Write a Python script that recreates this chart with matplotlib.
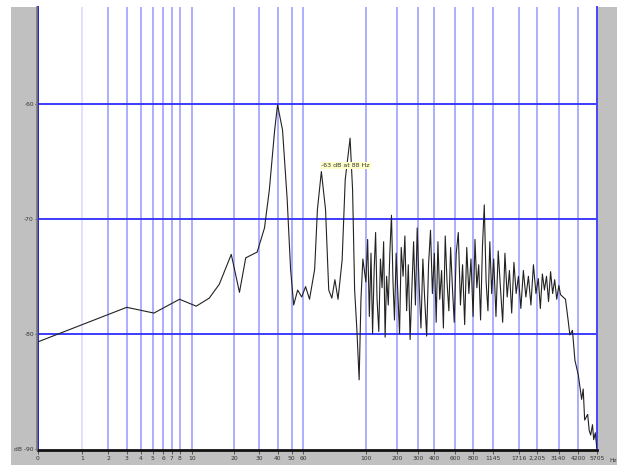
import numpy as np
import matplotlib
matplotlib.use("Agg")
import matplotlib.pyplot as plt
from matplotlib.patches import Rectangle
from matplotlib.lines import Line2D
from matplotlib.ticker import FixedLocator, NullLocator

# frequency grid of the analyser (Hz) and where each grid line sits on its warped axis
grid_hz = np.array([0, 1, 2, 3, 4, 5, 6, 7, 8, 10, 20, 30, 40, 50, 60, 100, 200, 300, 400,
                    600, 800, 1145, 1716, 2205, 3140, 4200, 5705], dtype=float)
grid_labels = ['0', '1', '2', '3', '4', '5', '6', '7', '8', '10', '20', '30', '40', '50', '60',
               '100', '200', '300', '400', '600', '800', '1145', '1716', '2,205', '3140', '4200', '5705']
grid_pos = np.array([39.3, 83, 109, 127.7, 142, 153.7, 164, 172.7, 180.3, 193, 234.7, 260, 278,
                     292, 303.3, 366, 397.3, 418, 434, 455.3, 473, 492.3, 518.7, 537, 558, 577.7, 596.3])

db_ticks = [-60, -70, -80, -90]
db_labels = ['-60', '-70', '-80', 'dB -90']

# spectrum: low-frequency part
freq_low = [0, 3, 5.1, 8, 10.7, 13.3, 15.7, 19.1, 21.8, 24.1, 28.9, 32.5, 35.1, 38.2, 40,
            43.3, 46.6, 49.2, 51.7, 55.1, 58.8, 61.3, 63.3, 66.0, 67.5, 69.7, 72.1, 74.0,
            75.9, 77.8, 79.8, 82.5, 84.6, 88, 89.8, 91.3, 93.0, 94.7, 96.1, 97.6]
db_low = [-80.7, -77.7, -78.2, -77.0, -77.6, -76.9, -75.7, -73.1, -76.4, -73.4, -72.9, -70.8,
          -67.5, -62.3, -60.1, -62.3, -68.3, -74.4, -77.5, -76.2, -76.8, -75.9, -77.0, -74.4,
          -69.2, -65.9, -69.2, -76.2, -76.9, -75.3, -77.0, -73.6, -66.6, -63.0, -67.5, -76.2,
          -79.7, -84.0, -77.0, -73.5]

# spectrum: noisy mid band
freq_mid = [100, 104, 108, 112, 116, 120, 124, 128, 133, 138, 143, 148, 153, 158, 164, 170,
            176, 182, 188, 195, 202, 209, 216, 224, 232, 240, 248, 257, 266, 275, 285, 295,
            305, 316, 327, 338, 350, 362, 375, 388, 402, 416, 430, 445, 461, 477, 494, 511,
            529, 547, 566, 586, 607, 628, 650, 673, 696, 720, 745, 771, 798, 826, 855, 885,
            916, 948, 981, 1015, 1050, 1087, 1125, 1164, 1205, 1247, 1290, 1335, 1382, 1430,
            1480, 1532, 1585, 1640, 1698, 1757, 1818, 1882, 1948, 2016, 2086, 2159, 2235,
            2313, 2394, 2478, 2564, 2654, 2747, 2843, 2942, 3045, 3152]
db_mid = [-75.5, -71.8, -78.5, -73.0, -80.0, -74.5, -71.2, -77.0, -79.8, -73.5, -76.0, -72.0,
          -80.3, -75.0, -77.5, -72.8, -69.7, -75.5, -78.8, -73.0, -76.5, -80.0, -72.5, -75.0,
          -71.5, -78.0, -74.0, -80.5, -76.0, -72.0, -77.5, -70.8, -75.5, -79.5, -73.5, -77.0,
          -80.2, -74.0, -71.0, -76.5, -73.0, -79.0, -72.0, -77.0, -74.5, -79.5, -71.5, -75.5,
          -78.0, -72.5, -76.0, -79.0, -73.0, -71.2, -77.5, -74.0, -79.2, -72.5, -76.5, -73.5,
          -78.5, -71.8, -76.0, -74.0, -78.8, -72.5, -68.8, -75.5, -78.0, -72.0, -76.5, -73.5,
          -78.5, -72.8, -76.0, -79.0, -73.0, -76.8, -74.5, -78.2, -73.8, -76.5, -75.0, -77.8,
          -74.5, -76.8, -75.0, -77.5, -74.0, -76.5, -75.2, -77.8, -74.8, -76.2, -75.0, -77.2,
          -74.6, -76.5, -75.3, -77.0, -75.8]

# spectrum: roll-off above 3 kHz
freq_high = [3232, 3476, 3613, 3707, 3851, 3995, 4200, 4434, 4550, 4659, 4895, 5020, 5142,
             5300, 5404, 5550, 5680]
db_high = [-76.6, -77.0, -78.8, -80.1, -79.7, -82.3, -83.6, -85.7, -84.8, -87.5, -87.0,
           -88.4, -88.8, -87.9, -89.2, -88.6, -89.9]

freq = np.array(freq_low + freq_mid + freq_high)
level = np.array(db_low + db_mid + db_high)

peak_hz, peak_db = 88, -63.0


def fwd(f):
    return np.interp(np.log10(np.asarray(f, dtype=float) + 1), np.log10(grid_hz + 1), grid_pos)


def inv(p):
    return 10 ** np.interp(np.asarray(p, dtype=float), grid_pos, np.log10(grid_hz + 1)) - 1


W, H = 622, 465
fig = plt.figure(figsize=(W / 100, H / 100), dpi=100)
fig.patch.set_facecolor('white')
fig.add_artist(Rectangle((11 / W, 0), (617 - 11) / W, 1 - 7 / H, transform=fig.transFigure,
                         facecolor='#c0c0c0', edgecolor='none', zorder=0))
fig.add_artist(Line2D([36.5 / W, 36.5 / W], [15 / H, 1 - 7 / H], transform=fig.transFigure,
                      color='#7a7a7a', lw=1.2, zorder=1))

ax = fig.add_axes([38 / W, 15 / H, (597 - 38) / W, (450 - 7) / H])
ax.set_facecolor('white')
ax.set_xscale('function', functions=(fwd, inv))
ax.set_xlim(0, 5705)
ax.set_ylim(-90.1, -51.6)

for f in grid_hz[1:-1]:
    ax.axvline(f, color='#dcdcff' if f == 1 else '#a0a0ff', lw=1.2, zorder=1)
for d in db_ticks[:-1]:
    ax.axhline(d, color='#3c3cff', lw=1.4, zorder=1)

ax.plot(freq, level, color='#222222', lw=0.8, zorder=3)

ax.text(peak_hz * 0.965, -65.4, f'{peak_db:.0f} dB at {peak_hz} Hz', fontsize=4.5,
        color='#333333', ha='center', va='center', zorder=4,
        bbox=dict(boxstyle='square,pad=0.15', facecolor='#ffffc8', edgecolor='none'))

ax.xaxis.set_major_locator(FixedLocator(grid_hz))
ax.xaxis.set_minor_locator(NullLocator())
ax.set_xticklabels(grid_labels)
ax.yaxis.set_major_locator(FixedLocator(db_ticks))
ax.set_yticklabels(db_labels)
ax.tick_params(axis='x', length=3, width=0.7, color='#555555', labelsize=4.3,
               labelcolor='#333333', pad=1)
ax.tick_params(axis='y', length=2, width=0.7, color='#555555', labelsize=4.3,
               labelcolor='#333333', pad=1)
ax.text(1.022, -0.018, 'Hz', transform=ax.transAxes, fontsize=4.3, color='#333333',
        ha='left', va='top')

ax.spines['top'].set_visible(False)
ax.spines['left'].set_color('#2222cc')
ax.spines['left'].set_linewidth(1.4)
ax.spines['right'].set_color('#4444ff')
ax.spines['right'].set_linewidth(1.4)
ax.spines['bottom'].set_color('#111111')
ax.spines['bottom'].set_linewidth(2.0)

fig.savefig('out.png', dpi=100)
